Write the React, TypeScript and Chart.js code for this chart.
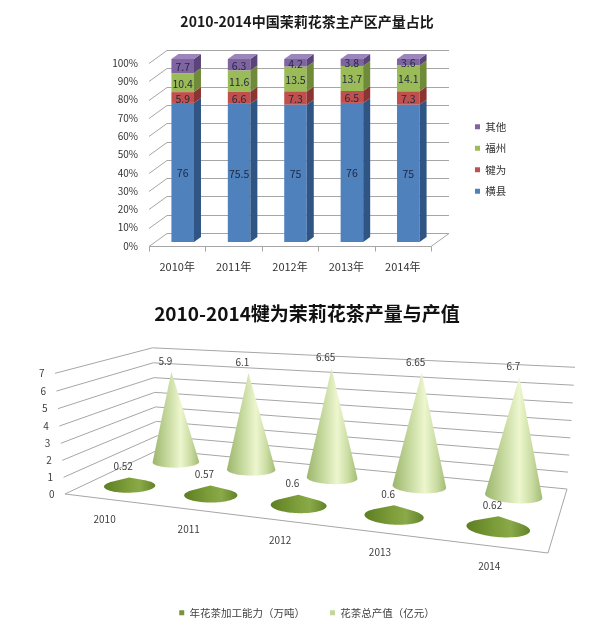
import React, { useEffect, useRef } from "react";
import { Chart, registerables } from "chart.js";

Chart.register(...registerables);

const FONT = '"Noto Sans CJK SC", "Noto Sans", sans-serif';
Chart.defaults.font.family = FONT;

// ---------- top chart data ----------
const topTitle = "2010-2014中国茉莉花茶主产区产量占比";
const topYears = ["2010年", "2011年", "2012年", "2013年", "2014年"];
const seriesNames = ["横县", "犍为", "福州", "其他"];
const hengxian = [76, 75.5, 75, 76, 75];
const qianwei = [5.9, 6.6, 7.3, 6.5, 7.3];
const fuzhou = [10.4, 11.6, 13.5, 13.7, 14.1];
const others = [7.7, 6.3, 4.2, 3.8, 3.6];
const topSeries = [hengxian, qianwei, fuzhou, others];

// ---------- bottom chart data ----------
const bottomTitle = "2010-2014犍为茉莉花茶产量与产值";
const bottomYears = ["2010", "2011", "2012", "2013", "2014"];
const capacityName = "年花茶加工能力（万吨）";
const valueName = "花茶总产值（亿元）";
const capacity = [0.52, 0.57, 0.6, 0.6, 0.62];
const outputValue = [5.9, 6.1, 6.65, 6.65, 6.7];

// ---------- styles ----------
const FRONT = ["#4F81BD", "#C0504D", "#9BBB59", "#8064A2"];
const SIDE = ["#2E5584", "#8B3431", "#6F8B3A", "#5B4479"];
const TOPFACE = ["#7DA2D3", "#D27B78", "#B5CE85", "#9C85BA"];
const GRID = "#A6A6A6";
const TEXT = "#333333";

const WALL = { x: 18, y: -13 };
const BAR_SHIFT = { x: 5.5, y: -4 };
const BAR_DEPTH = { x: 7, y: -5 };

function poly(ctx: CanvasRenderingContext2D, pts: number[][]) {
  ctx.beginPath();
  pts.forEach((p, i) => (i ? ctx.lineTo(p[0], p[1]) : ctx.moveTo(p[0], p[1])));
  ctx.closePath();
}

const bars3d = {
  id: "bars3d",
  beforeDatasetsDraw(chart: any) {
    const { ctx, chartArea: ca, scales } = chart;
    const ys = scales.y;
    const xs = scales.x;
    ctx.save();
    ctx.strokeStyle = GRID;
    ctx.lineWidth = 1;
    ys.ticks.forEach((tk: any) => {
      const y = Math.round(ys.getPixelForValue(tk.value)) + 0.5;
      ctx.beginPath();
      ctx.moveTo(ca.left, y);
      ctx.lineTo(ca.left + WALL.x, y + WALL.y);
      ctx.lineTo(ca.right + WALL.x, y + WALL.y);
      ctx.stroke();
    });
    const b = Math.round(ys.getPixelForValue(0)) + 0.5;
    ctx.beginPath();
    ctx.moveTo(ca.left, b);
    ctx.lineTo(ca.right, b);
    ctx.lineTo(ca.right + WALL.x, b + WALL.y);
    ctx.stroke();
    const n = xs.getLabels().length;
    ctx.beginPath();
    for (let i = 0; i <= n; i++) {
      const x = Math.round(xs.left + (i * (xs.right - xs.left)) / n) + 0.5;
      ctx.moveTo(x, b);
      ctx.lineTo(x, b + 5);
    }
    ctx.stroke();
    ctx.restore();
    ctx.save();
    ctx.translate(BAR_SHIFT.x, BAR_SHIFT.y);
  },
  afterDatasetsDraw(chart: any) {
    const { ctx } = chart;
    const count = chart.data.datasets.length;
    const labels: any[] = [];
    chart.data.datasets.forEach((ds: any, di: number) => {
      const meta = chart.getDatasetMeta(di);
      meta.data.forEach((el: any, j: number) => {
        const { x, y, base, width } = el.getProps(["x", "y", "base", "width"], true);
        const l = x - width / 2;
        const r = x + width / 2;
        const top = Math.min(y, base);
        const bot = Math.max(y, base);
        ctx.fillStyle = SIDE[di];
        poly(ctx, [
          [r, top],
          [r + BAR_DEPTH.x, top + BAR_DEPTH.y],
          [r + BAR_DEPTH.x, bot + BAR_DEPTH.y],
          [r, bot],
        ]);
        ctx.fill();
        if (di === count - 1) {
          ctx.fillStyle = TOPFACE[di];
          poly(ctx, [
            [l, top],
            [r, top],
            [r + BAR_DEPTH.x, top + BAR_DEPTH.y],
            [l + BAR_DEPTH.x, top + BAR_DEPTH.y],
          ]);
          ctx.fill();
        }
        labels.push([String(ds.data[j]), x, (top + bot) / 2 + 1]);
      });
    });
    ctx.fillStyle = "#1F2740";
    ctx.font = `10.5px ${FONT}`;
    ctx.textAlign = "center";
    ctx.textBaseline = "middle";
    labels.forEach(([t, x, y]) => ctx.fillText(t, x, y));
    ctx.restore();
  },
};

const legendWidth = {
  id: "legendWidth",
  beforeUpdate(chart: any) {
    const lg = chart.legend;
    if (lg && !lg.__patched) {
      const orig = lg.fit.bind(lg);
      lg.fit = function () {
        orig();
        this.width = 136;
      };
      lg.__patched = true;
    }
  },
};

function topConfig(): any {
  return {
    type: "bar",
    data: {
      labels: topYears,
      datasets: topSeries.map((vals, i) => ({
        label: seriesNames[i],
        data: vals,
        backgroundColor: FRONT[i],
        borderWidth: 0,
        clip: false,
      })),
    },
    options: {
      animation: false,
      responsive: true,
      maintainAspectRatio: false,
      layout: { padding: { left: 14, right: 0, top: 0, bottom: 11.8 } },
      datasets: { bar: { categoryPercentage: 1, barPercentage: 0.4 } },
      scales: {
        x: {
          stacked: true,
          grid: { display: false, drawTicks: false },
          border: { display: false },
          ticks: { padding: 14, color: TEXT, font: { size: 11 } },
          afterFit: (s: any) => {
            s.height = 27.2;
          },
        },
        y: {
          stacked: true,
          min: 0,
          max: 100,
          grid: { display: false, drawTicks: false },
          border: { display: false },
          ticks: { stepSize: 10, padding: 11, color: TEXT, font: { size: 10 }, callback: (v: any) => v + "%" },
          afterFit: (s: any) => {
            s.width = 135;
          },
        },
        y2: {
          position: "right",
          grid: { display: false, drawTicks: false },
          border: { display: false },
          ticks: { display: false },
          afterFit: (s: any) => {
            s.width = 33;
          },
        },
      },
      plugins: {
        tooltip: { enabled: false },
        title: {
          display: true,
          text: topTitle,
          color: "#1A1A1A",
          font: { size: 14, weight: "bold" },
          padding: { top: 13.6, bottom: 32.6 },
        },
        legend: {
          position: "right",
          fullSize: false,
          reverse: true,
          title: { display: true, text: "", padding: 0, font: { size: 7.5 } },
          labels: { boxWidth: 5, boxHeight: 5, padding: 11, color: TEXT, font: { size: 10.5 } },
        },
      },
    },
    plugins: [bars3d, legendWidth],
  };
}

// ---------- bottom chart: perspective frame ----------
const FLOOR = { fl: [65, 209], fr: [548, 268], br: [567, 204], bl: [158, 165] };
const TOP_FL = [55, 88.3];
const TOP_BR = [575, 86];
const ROW_DEPTH = [0.25, 0.78];
const CONE_RU = 0.058;
const CONE_RW = 0.125;
const FLAT_STOPS: [number, string][] = [
  [0, "#5D7E22"],
  [0.45, "#7D9D3A"],
  [0.7, "#8AA948"],
  [1, "#62832A"],
];
const TALL_STOPS: [number, string][] = [
  [0, "#9CB66C"],
  [0.3, "#C3D79B"],
  [0.6, "#EDF6CE"],
  [0.82, "#CADCA2"],
  [1, "#A2BC74"],
];

function makeProj() {
  const [x0, y0] = FLOOR.fl;
  const [x1, y1] = FLOOR.fr;
  const [x2, y2] = FLOOR.br;
  const [x3, y3] = FLOOR.bl;
  const dx1 = x1 - x2, dx2 = x3 - x2, dx3 = x0 - x1 + x2 - x3;
  const dy1 = y1 - y2, dy2 = y3 - y2, dy3 = y0 - y1 + y2 - y3;
  const den = dx1 * dy2 - dx2 * dy1;
  const g = (dx3 * dy2 - dx2 * dy3) / den;
  const h = (dx1 * dy3 - dx3 * dy1) / den;
  const a = x1 - x0 + g * x1, b = x3 - x0 + h * x3, c = x0;
  const d = y1 - y0 + g * y1, e = y3 - y0 + h * y3, f = y0;
  const [X1, Y1] = TOP_FL;
  const X2 = TOP_BR[0];
  const qz = (X2 * (1 + g + h) - (a + b + c) - (X1 - c)) / (X1 - X2);
  const qx = X1 - c + X1 * qz;
  const qy = Y1 - f + Y1 * qz;
  return (u: number, w: number, t: number) => {
    const Z = g * u + h * w + 1 + qz * t;
    return [(a * u + b * w + c + qx * t) / Z, (d * u + e * w + f + qy * t) / Z];
  };
}

function hull(points: number[][]) {
  const p = points.slice().sort((A, B) => A[0] - B[0] || A[1] - B[1]);
  const cross = (o: number[], A: number[], B: number[]) =>
    (A[0] - o[0]) * (B[1] - o[1]) - (A[1] - o[1]) * (B[0] - o[0]);
  const lower: number[][] = [];
  for (const pt of p) {
    while (lower.length >= 2 && cross(lower[lower.length - 2], lower[lower.length - 1], pt) <= 0) lower.pop();
    lower.push(pt);
  }
  const upper: number[][] = [];
  for (let i = p.length - 1; i >= 0; i--) {
    const pt = p[i];
    while (upper.length >= 2 && cross(upper[upper.length - 2], upper[upper.length - 1], pt) <= 0) upper.pop();
    upper.push(pt);
  }
  upper.pop();
  lower.pop();
  return lower.concat(upper);
}

function drawCone(ctx: CanvasRenderingContext2D, proj: any, uc: number, w: number, t: number, stops: [number, string][]) {
  const pts: number[][] = [];
  for (let k = 0; k < 90; k++) {
    const th = (k / 90) * Math.PI * 2;
    pts.push(proj(uc + CONE_RU * Math.cos(th), w + CONE_RW * Math.sin(th), 0));
  }
  const apex = proj(uc, w, t);
  const hp = hull([...pts, apex]);
  let minX = Infinity, maxX = -Infinity;
  hp.forEach((p) => {
    minX = Math.min(minX, p[0]);
    maxX = Math.max(maxX, p[0]);
  });
  const grad = ctx.createLinearGradient(minX, 0, maxX, 0);
  stops.forEach(([o, col]) => grad.addColorStop(o, col));
  ctx.fillStyle = grad;
  poly(ctx, hp);
  ctx.fill();
  return apex;
}

const cones3d = {
  id: "cones3d",
  beforeDatasetsDraw(chart: any) {
    const { ctx, scales } = chart;
    const xs = scales.x;
    const ys = scales.y;
    const proj = makeProj();
    const uOf = (i: number) => (xs.getPixelForValue(i) - xs.left) / (xs.right - xs.left);
    const tOf = (v: number) => (ys.bottom - ys.getPixelForValue(v)) / (ys.bottom - ys.top);

    ctx.save();
    ctx.strokeStyle = GRID;
    ctx.lineWidth = 1;
    const line = (pts: number[][]) => {
      ctx.beginPath();
      pts.forEach((p, i) => (i ? ctx.lineTo(p[0], p[1]) : ctx.moveTo(p[0], p[1])));
      ctx.stroke();
    };
    ys.ticks.forEach((tk: any) => {
      const t = tOf(tk.value);
      line([proj(0, 0, t), proj(0, 1, t), proj(1, 1, t)]);
    });
    line([proj(0, 0, 0), proj(1, 0, 0), proj(1, 1, 0)]);

    ctx.fillStyle = "#404040";
    ctx.font = `10px ${FONT}`;
    ctx.textBaseline = "middle";
    ctx.textAlign = "right";
    ys.ticks.forEach((tk: any) => {
      const p = proj(0, 0, tOf(tk.value));
      ctx.fillText(String(tk.value), p[0] - 10.5, p[1]);
    });
    ctx.textAlign = "center";
    xs.getLabels().forEach((lab: string, i: number) => {
      const p = proj(uOf(i), 0, 0);
      ctx.fillText(lab, p[0], p[1] + 20);
    });

    const labels: any[] = [];
    const order = [1, 0];
    order.forEach((di) => {
      const ds = chart.data.datasets[di];
      ds.data.forEach((v: number, i: number) => {
        const apex = drawCone(ctx, proj, uOf(i), ROW_DEPTH[di], tOf(v), di === 1 ? TALL_STOPS : FLAT_STOPS);
        labels.push([String(v), apex[0] - 6, apex[1] - 11]);
      });
    });
    ctx.fillStyle = "#404040";
    ctx.font = `10px ${FONT}`;
    ctx.textAlign = "center";
    labels.forEach(([s, x, y]) => ctx.fillText(s, x, y));
    ctx.restore();
    return false;
  },
};

function bottomConfig(): any {
  return {
    type: "bar",
    data: {
      labels: bottomYears,
      datasets: [
        { label: capacityName, data: capacity, backgroundColor: "#77933C", borderWidth: 0 },
        { label: valueName, data: outputValue, backgroundColor: "#C3D69B", borderWidth: 0 },
      ],
    },
    options: {
      animation: false,
      responsive: true,
      maintainAspectRatio: false,
      layout: { padding: { left: 14, right: 0, top: 0, bottom: 0 } },
      scales: {
        x: { display: false },
        y: { display: false, min: 0, max: 7, ticks: { stepSize: 1 } },
      },
      plugins: {
        tooltip: { enabled: false },
        title: {
          display: true,
          text: bottomTitle,
          color: "#111111",
          font: { size: 19, weight: "bold" },
          padding: { top: 16.9, bottom: 10 },
        },
        legend: {
          position: "bottom",
          labels: { boxWidth: 5, boxHeight: 5, padding: 25, color: "#404040", font: { size: 10.5 } },
        },
      },
    },
    plugins: [cones3d],
  };
}

export default function App() {
  const topRef = useRef<HTMLCanvasElement>(null);
  const botRef = useRef<HTMLCanvasElement>(null);
  useEffect(() => {
    const c1 = new Chart(topRef.current as HTMLCanvasElement, topConfig());
    const c2 = new Chart(botRef.current as HTMLCanvasElement, bottomConfig());
    return () => {
      c1.destroy();
      c2.destroy();
    };
  }, []);
  return (
    <div style={{ position: "absolute", left: 0, top: 0, width: 600, height: 628, background: "#fff" }}>
      <div style={{ position: "relative", width: 600, height: 285 }}>
        <canvas ref={topRef} />
      </div>
      <div style={{ position: "relative", width: 600, height: 343 }}>
        <canvas ref={botRef} />
      </div>
    </div>
  );
}
